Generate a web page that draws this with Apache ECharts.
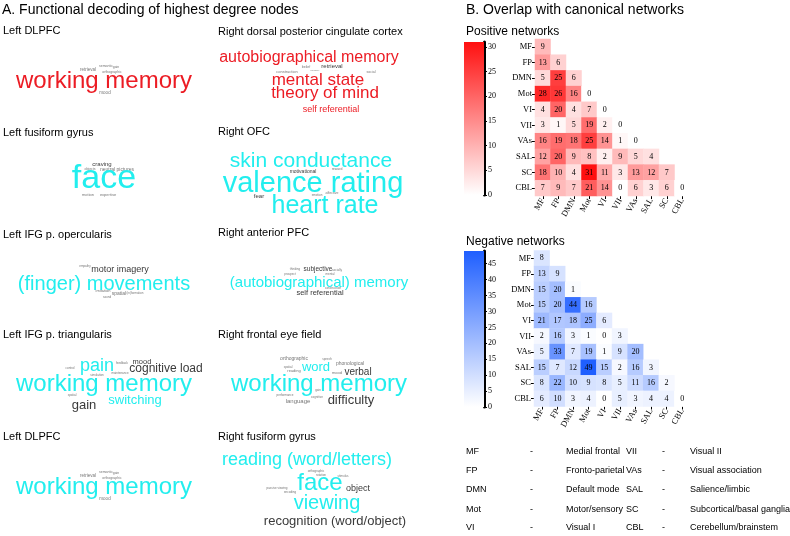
<!DOCTYPE html>
<html><head><meta charset="utf-8">
<script src="https://cdn.jsdelivr.net/npm/echarts@6/dist/echarts.min.js"></script>
<style>html,body{margin:0;padding:0;background:#fff}#c{width:790px;height:536px}</style>
</head><body><div id="c"></div>
<script>
// ---------------- data ----------------
const networks = ['MF','FP','DMN','Mot','VI','VII','VAs','SAL','SC','CBL'];
const networkNames = ['Medial frontal','Fronto-parietal','Default mode','Motor/sensory','Visual I',
  'Visual II','Visual association','Salience/limbic','Subcortical/basal ganglia','Cerebellum/brainstem'];
const positiveCounts = [
  [9],
  [13,6],
  [5,25,6],
  [28,26,16,0],
  [4,20,4,7,0],
  [3,1,5,19,2,0],
  [16,19,18,25,14,1,0],
  [12,20,9,8,2,9,5,4],
  [18,10,4,31,11,3,13,12,7],
  [7,9,7,21,14,0,6,3,6,0]
];
const negativeCounts = [
  [8],
  [13,9],
  [15,20,1],
  [15,20,44,16],
  [21,17,18,25,6],
  [2,16,3,1,0,3],
  [5,33,7,19,1,9,20],
  [15,7,12,49,15,2,16,3],
  [8,22,10,9,8,5,11,16,2],
  [6,10,3,4,0,5,3,4,4,0]
];
const positiveMax = 31;
const negativeMax = 49;
const colorbarStep = 5;

const cloudTitles = ['Left DLPFC','Right dorsal posterior cingulate cortex','Left fusiform gyrus','Right OFC',
  'Left IFG p. opercularis','Right anterior PFC','Left IFG p. triangularis','Right frontal eye field',
  'Left DLPFC','Right fusiform gyrus'];
// [term, weight(font size), kind] kind: h = highlighted term, d = dark term, g = minor term
const cloudWords = [
  [['working memory',24,'h'],['retrieval',4.5,'g'],['semantic',3.5,'g'],['gain',3.5,'g'],['orthographic',3.5,'g'],['mood',4.5,'g']],
  [['autobiographical memory',16,'h'],['mental state',17,'h'],['theory of mind',17,'h'],['self referential',9,'h'],
   ['retrieval',6,'d'],['construction',4,'g'],['belief',3.5,'g'],['social',3.5,'g'],['memory',2.5,'g']],
  [['face',34,'h'],['craving',6,'d'],['objects',3.5,'g'],['neutral pictures',5,'g'],['motion',4,'g'],['expertise',4,'g']],
  [['skin conductance',21,'h'],['valence rating',29,'h'],['heart rate',25,'h'],['motivational',5,'d'],['reward',3.5,'g'],
   ['fear',6,'d'],['emotion',3,'g'],['affective',3.5,'g']],
  [['(finger) movements',20,'h'],['motor imagery',9,'d'],['empathy',3,'g'],['imitation',4,'g'],['spatial',5,'g'],
   ['sound',3,'g'],['(in)formation',3,'g']],
  [['(autobiographical) memory',15,'h'],['subjective',6.5,'d'],['self referential',7.5,'d'],['thinking',3,'g'],
   ['socially',3,'g'],['mental',3,'g'],['construction',3,'g'],['prospect',3,'g']],
  [['working memory',24,'h'],['pain',18,'h'],['cognitive load',12,'d'],['mood',7.5,'d'],['switching',13,'h'],['gain',13,'d'],
   ['feedback',3,'g'],['maintenance',3,'g'],['simulation',3,'g'],['spatial',3,'g'],['control',3,'g']],
  [['working memory',24,'h'],['word',13,'h'],['verbal',10,'d'],['difficulty',13,'d'],['phonological',5,'g'],
   ['orthographic',5,'g'],['language',6,'g'],['reading',4,'g'],['mood',4,'g'],['performance',3,'g'],['gain',3,'g'],
   ['cognitive',3,'g'],['speech',3,'g'],['spatial',3,'g']],
  [['working memory',24,'h'],['retrieval',4.5,'g'],['semantic',3.5,'g'],['gain',3.5,'g'],['orthographic',3.5,'g'],['mood',4.5,'g']],
  [['reading (word/letters)',18,'h'],['face',24,'h'],['object',9,'d'],['viewing',20,'h'],['recognition (word/object)',13,'d'],
   ['orthographic',3,'g'],['rotation',3,'g'],['stimulus',3,'g'],['passive viewing',3,'g'],['encoding',3,'g']]
];

// ---------------- layout / styles ----------------
const cloudHighlight = ['#ec1c24','#ec1c24','#22eeee','#22eeee','#22eeee','#22eeee','#22eeee','#22eeee','#22eeee','#22eeee'];
const titlePos = [[3,31],[218,32],[3,133],[218,132],[3,235],[218,233],[3,335],[218,335],[3,437],[218,437]];
const wordPos = [
  [[104,81],[88,70],[106,66],[116,67],[112,72],[105,93]],
  [[309,58],[318,80],[325,93],[331,110],[332,66],[287,72],[306,67],[371,72],[315,70]],
  [[104,179],[102,164],[90,169],[117,170],[88,195],[108,195]],
  [[311,161],[313,184],[325,206],[303,172],[337,169],[259,196],[317,195],[332,193]],
  [[104,284],[120,270],[85,266],[103,291],[119,294],[107,297],[135,293]],
  [[319,283],[318,269],[320,293],[295,269],[337,270],[330,274],[333,288],[290,274]],
  [[104,384],[97,366],[166,369],[142,362],[135,400],[84,405],[122,363],[120,373],[97,375],[72,395],[70,368]],
  [[319,384],[316,367],[358,372],[351,400],[350,364],[294,359],[298,401],[294,371],[337,373],[285,395],[318,390],[317,397],[327,359],[288,367]],
  [[104,487],[88,476],[106,472],[116,473],[112,478],[105,499]],
  [[307,460],[320,483],[358,489],[327,503],[335,521],[316,471],[321,475],[343,476],[277,488],[290,492]]
];
const legendCols = [[466,530,566],[626,662,690]];
const legendRows = [452,471,490,510,528];
const SANS = '"Liberation Sans", Arial, sans-serif';
const SERIF = '"Liberation Serif", "Times New Roman", serif';

function tri(m){const out=[];m.forEach((r,i)=>r.forEach((v,j)=>out.push([j,i,v])));return out;}

const graphics = [];
graphics.push({type:'text',x:2,y:10,style:{text:'A. Functional decoding of highest degree nodes',fill:'#000',font:'14px '+SANS,textVerticalAlign:'middle'}});
graphics.push({type:'text',x:466,y:10,style:{text:'B. Overlap with canonical networks',fill:'#000',font:'14px '+SANS,textVerticalAlign:'middle'}});
graphics.push({type:'text',x:466,y:32,style:{text:'Positive networks',fill:'#000',font:'12px '+SANS,textVerticalAlign:'middle'}});
graphics.push({type:'text',x:466,y:242,style:{text:'Negative networks',fill:'#000',font:'12px '+SANS,textVerticalAlign:'middle'}});
cloudTitles.forEach((t,i)=>{
  graphics.push({type:'text',x:titlePos[i][0],y:titlePos[i][1],style:{text:t,fill:'#000',font:'11px '+SANS,textVerticalAlign:'middle'}});
  cloudWords[i].forEach((w,k)=>{
    const col = w[2]==='h'?cloudHighlight[i]:(w[2]==='d'?'#3a3a3a':'#777');
    graphics.push({type:'text',x:wordPos[i][k][0],y:wordPos[i][k][1],z:w[2]==='h'?2:1,
      style:{text:w[0],fill:col,font:w[1]+'px '+SANS,textAlign:'center',textVerticalAlign:'middle'}});
  });
});
networks.forEach((n,i)=>{
  const c = legendCols[i<5?0:1], y = legendRows[i%5];
  const f = '9px '+SANS;
  graphics.push({type:'text',x:c[0],y:y,style:{text:n,fill:'#000',font:f,textVerticalAlign:'middle'}});
  graphics.push({type:'text',x:c[1],y:y,style:{text:'-',fill:'#000',font:f,textVerticalAlign:'middle'}});
  graphics.push({type:'text',x:c[2],y:y,style:{text:networkNames[i],fill:'#000',font:f,textVerticalAlign:'middle'}});
});

function cbY(gi,max){return {type:'value',gridIndex:gi,min:0,max:max,interval:colorbarStep,position:'right',
  axisLine:{show:true,lineStyle:{color:'#000',width:3}},axisTick:{show:true,length:3,lineStyle:{color:'#000'}},
  axisLabel:{fontFamily:SERIF,fontSize:8,color:'#000',margin:4,showMaxLabel:false},splitLine:{show:false}};}
function hmX(gi){return {type:'category',gridIndex:gi,data:networks,position:'bottom',
  axisLine:{show:false},axisTick:{show:true,length:3,alignWithLabel:true,lineStyle:{color:'#000'}},
  axisLabel:{fontFamily:SERIF,fontSize:8.5,color:'#000',rotate:60,margin:3,interval:0},splitArea:{show:false}};}
function hmY(gi){return {type:'category',gridIndex:gi,data:networks,inverse:true,
  axisLine:{show:false},axisTick:{show:true,length:3,alignWithLabel:true,lineStyle:{color:'#000'}},
  axisLabel:{fontFamily:SERIF,fontSize:8.5,color:'#000',margin:3,interval:0},splitArea:{show:false}};}
function grad(c){return {type:'linear',x:0,y:0,x2:0,y2:1,colorStops:[{offset:0,color:c},{offset:1,color:'#ffffff'}]};}

const POS='#ff1010', NEG='#1f5fff';
const option = {
  animation:false,
  backgroundColor:'#fff',
  graphic:graphics,
  grid:[
    {left:464,top:42,width:20,height:153},
    {left:535,top:39,width:155,height:157},
    {left:464,top:251,width:20,height:156},
    {left:534,top:250.5,width:156,height:156}
  ],
  xAxis:[
    {type:'category',gridIndex:0,data:['c'],show:false},
    hmX(1),
    {type:'category',gridIndex:2,data:['c'],show:false},
    hmX(3)
  ],
  yAxis:[cbY(0,positiveMax),hmY(1),cbY(2,negativeMax),hmY(3)],
  visualMap:[
    {type:'continuous',show:false,seriesIndex:1,min:0,max:positiveMax,inRange:{color:['#ffffff',POS]}},
    {type:'continuous',show:false,seriesIndex:3,min:0,max:negativeMax,inRange:{color:['#ffffff',NEG]}}
  ],
  series:[
    {type:'bar',xAxisIndex:0,yAxisIndex:0,data:[positiveMax],barWidth:'100%',itemStyle:{color:grad(POS)},silent:true},
    {type:'heatmap',xAxisIndex:1,yAxisIndex:1,data:tri(positiveCounts),
      label:{show:true,fontFamily:SERIF,fontSize:8,color:'#000'}},
    {type:'bar',xAxisIndex:2,yAxisIndex:2,data:[negativeMax],barWidth:'100%',itemStyle:{color:grad(NEG)},silent:true},
    {type:'heatmap',xAxisIndex:3,yAxisIndex:3,data:tri(negativeCounts),
      label:{show:true,fontFamily:SERIF,fontSize:8,color:'#000'}}
  ]
};
echarts.init(document.getElementById('c'),null,{renderer:'canvas'}).setOption(option);
</script></body></html>
